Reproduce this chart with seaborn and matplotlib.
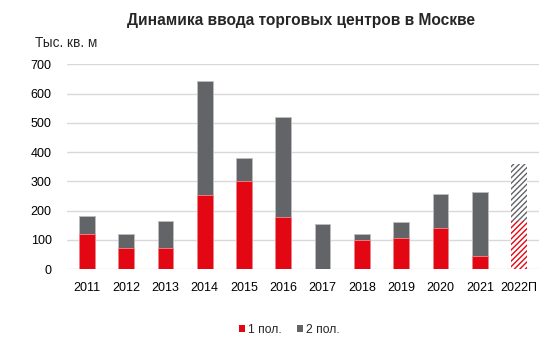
import matplotlib
matplotlib.use("Agg")
import matplotlib.pyplot as plt
import seaborn as sns
import pandas as pd
from matplotlib.patches import Patch

years = ["2011", "2012", "2013", "2014", "2015", "2016", "2017",
         "2018", "2019", "2020", "2021", "2022П"]
first_half = [121, 73, 71, 252, 300, 179, 0, 98, 105, 141, 43, 164]
second_half = [62, 46, 93, 392, 81, 342, 153, 23, 57, 115, 221, 196]
forecast_years = ["2022П"]

RED = "#E30613"
GRAY = "#636468"
GRID = "#D9D9D9"

sns.set_theme(style="white")
plt.rcParams["font.family"] = ["Liberation Sans", "DejaVu Sans"]
plt.rcParams["hatch.linewidth"] = 1.0

df = pd.DataFrame({"year": years, "h1": first_half, "h2": second_half})
df["total"] = df["h1"] + df["h2"]

fig = plt.figure(figsize=(5.41, 3.41), dpi=100)
ax = fig.add_axes([0.124, 0.211, 0.872, 0.600])

sns.barplot(data=df, x="year", y="total", color=GRAY, saturation=1,
            width=0.4, edgecolor="#BDBDBD", linewidth=0.6, ax=ax, zorder=2)
sns.barplot(data=df, x="year", y="h1", color=RED, saturation=1,
            width=0.4, edgecolor="#F08A8F", linewidth=0.6, ax=ax, zorder=3)

n = len(years)
total_bars = ax.patches[:n]
red_bars = ax.patches[n:2 * n]
for i, y in enumerate(years):
    if y in forecast_years:
        for bar, col in ((total_bars[i], GRAY), (red_bars[i], RED)):
            bar.set_facecolor("white")
            bar.set_edgecolor(col)
            bar.set_linewidth(0)
            bar.set_hatch("//////")

ax.set_ylim(0, 700)
ax.set_yticks(range(0, 701, 100))
ax.set_xlim(-0.5, n - 0.5)
ax.yaxis.grid(True, color=GRID, linewidth=1.0, zorder=0)
ax.set_axisbelow(True)
for s in ax.spines.values():
    s.set_visible(False)
ax.tick_params(axis="both", length=0, labelsize=9, colors="black")
ax.tick_params(axis="y", pad=11)
ax.tick_params(axis="x", pad=9)
ax.set_xlabel("")
ax.set_ylabel("")

fig.text(0.556, 0.94, "Динамика ввода торговых центров в Москве",
         ha="center", va="center", fontsize=11.2, fontweight="bold")
fig.text(0.064, 0.875, "Тыс. кв. м", ha="left", va="center", fontsize=9.8)

handles = [Patch(facecolor=RED, edgecolor="none", label="1 пол."),
           Patch(facecolor=GRAY, edgecolor="none", label="2 пол.")]
fig.legend(handles=handles, loc="center", bbox_to_anchor=(0.535, 0.032),
           ncol=2, frameon=False, fontsize=8.7, handlelength=0.5,
           handleheight=0.5, handletextpad=0.3, columnspacing=1.2)

fig.savefig("out.png", dpi=100)
